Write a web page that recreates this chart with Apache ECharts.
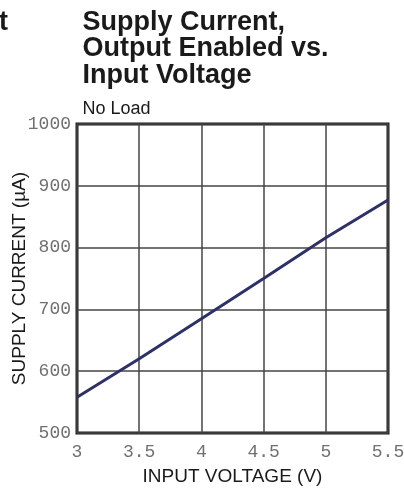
<!DOCTYPE html>
<html><head><meta charset="utf-8">
<script src="https://cdn.jsdelivr.net/npm/echarts@6/dist/echarts.min.js"></script>
<style>html,body{margin:0;padding:0;background:#fff}#c{width:404px;height:491px}</style>
</head><body><div id="c"></div>
<script>
const voltage = [3, 3.5, 4, 4.5, 5, 5.5];
const current = [558, 620, 685, 750, 816, 877];
const xTicks = [3, 3.5, 4, 4.5, 5, 5.5];
const yTicks = [500, 600, 700, 800, 900, 1000];

const chart = echarts.init(document.getElementById('c'), null, {renderer: 'canvas'});
const monoLabel = {fontFamily: 'Liberation Mono', fontSize: 18, color: '#707070'};
chart.setOption({
  animation: false,
  title: [
    {text: 'Supply Current,\nOutput Enabled vs.\nInput Voltage', left: 82.5, top: 9, padding: 0,
     textStyle: {fontFamily: 'Liberation Sans', fontWeight: 'bold', fontSize: 27, lineHeight: 26.5, color: '#1a1a1a'}},
    {text: 'No Load', left: 82.5, top: 100, padding: 0,
     textStyle: {fontFamily: 'Liberation Sans', fontWeight: 'normal', fontSize: 18, color: '#1a1a1a'}},
    {text: 't', left: -1, top: 9, padding: 0,
     textStyle: {fontFamily: 'Liberation Sans', fontWeight: 'bold', fontSize: 27, lineHeight: 26.5, color: '#1a1a1a'}}
  ],
  grid: {left: 77, top: 124, right: 16, bottom: 58, outerBoundsMode: 'none', containLabel: false,
         show: true, borderColor: '#1a1a1a', borderWidth: 3, backgroundColor: 'transparent'},
  xAxis: {
    type: 'value', min: 3, max: 5.5, interval: 0.5,
    name: 'INPUT VOLTAGE (V)', nameLocation: 'middle', nameGap: 34, nameMoveOverlap: false,
    nameTextStyle: {fontFamily: 'Liberation Sans', fontSize: 19, color: '#1a1a1a'},
    axisLine: {show: false}, axisTick: {show: false},
    axisLabel: Object.assign({margin: 10, formatter: v => String(v)}, monoLabel),
    splitLine: {show: true, lineStyle: {color: '#444', width: 1.5}}
  },
  yAxis: {
    type: 'value', min: 500, max: 1000, interval: 100,
    name: 'SUPPLY CURRENT (\u00b5A)', nameLocation: 'middle', nameGap: 48, nameMoveOverlap: false,
    nameTextStyle: {fontFamily: 'Liberation Sans', fontSize: 19, color: '#1a1a1a'},
    axisLine: {show: false}, axisTick: {show: false},
    axisLabel: Object.assign({margin: 6, formatter: v => String(v)}, monoLabel),
    splitLine: {show: true, lineStyle: {color: '#444', width: 1.5}}
  },
  series: [{
    type: 'line', data: voltage.map((v, i) => [v, current[i]]),
    showSymbol: false, lineStyle: {color: '#2e3168', width: 3}
  }]
});
</script></body></html>
